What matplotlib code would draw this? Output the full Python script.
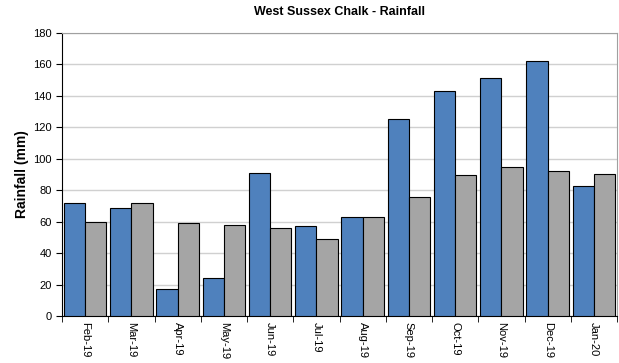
import matplotlib
matplotlib.use("Agg")
import matplotlib.pyplot as plt
import numpy as np

months = ["Feb-19", "Mar-19", "Apr-19", "May-19", "Jun-19", "Jul-19",
          "Aug-19", "Sep-19", "Oct-19", "Nov-19", "Dec-19", "Jan-20"]
rainfall = [72, 69, 17, 24, 91, 57, 63, 125, 143, 151.5, 162, 83]
long_term_avg = [60, 72, 59, 58, 56, 49, 63, 76, 90, 95, 92.5, 90.5]

plt.rcParams['font.family'] = ['Liberation Sans', 'DejaVu Sans']

fig = plt.figure(figsize=(6.19, 3.63), dpi=100)
ax = fig.add_axes([62/619, 1-316/363, (617-62)/619, (316-33)/363])

x = np.arange(len(months))
w = 0.46
ax.bar(x - w/2, rainfall, width=w, color="#4F81BD", edgecolor="black", linewidth=0.8, zorder=3)
ax.bar(x + w/2, long_term_avg, width=w, color="#A5A5A5", edgecolor="black", linewidth=0.8, zorder=3)

ax.set_xlim(-0.5, len(months) - 0.5)
ax.set_ylim(0, 180)
ax.set_yticks(np.arange(0, 181, 20))
ax.yaxis.grid(True, color="#D0D0D0", linewidth=1, zorder=0)
ax.set_axisbelow(True)

ax.set_xticks(x)
ax.set_xticklabels(months, rotation=270, fontsize=8)
ax.tick_params(axis='x', which='major', length=0, pad=4)
ax.set_xticks(np.arange(-0.5, len(months), 1), minor=True)
ax.tick_params(axis='x', which='minor', length=4, direction='out', color='black')
ax.tick_params(axis='y', labelsize=8, length=4, direction='out')

for s in ['top', 'right']:
    ax.spines[s].set_color("#A0A0A0")
ax.spines['left'].set_color("black")
ax.spines['bottom'].set_color("black")

ax.set_ylabel("Rainfall (mm)", fontsize=10, fontweight='bold', labelpad=3)
fig.text(0.5 * (62 + 617) / 619, 1 - 12/363, "West Sussex Chalk - Rainfall",
         ha='center', va='center', fontsize=9, fontweight='bold')

fig.savefig("out.png", dpi=100)
